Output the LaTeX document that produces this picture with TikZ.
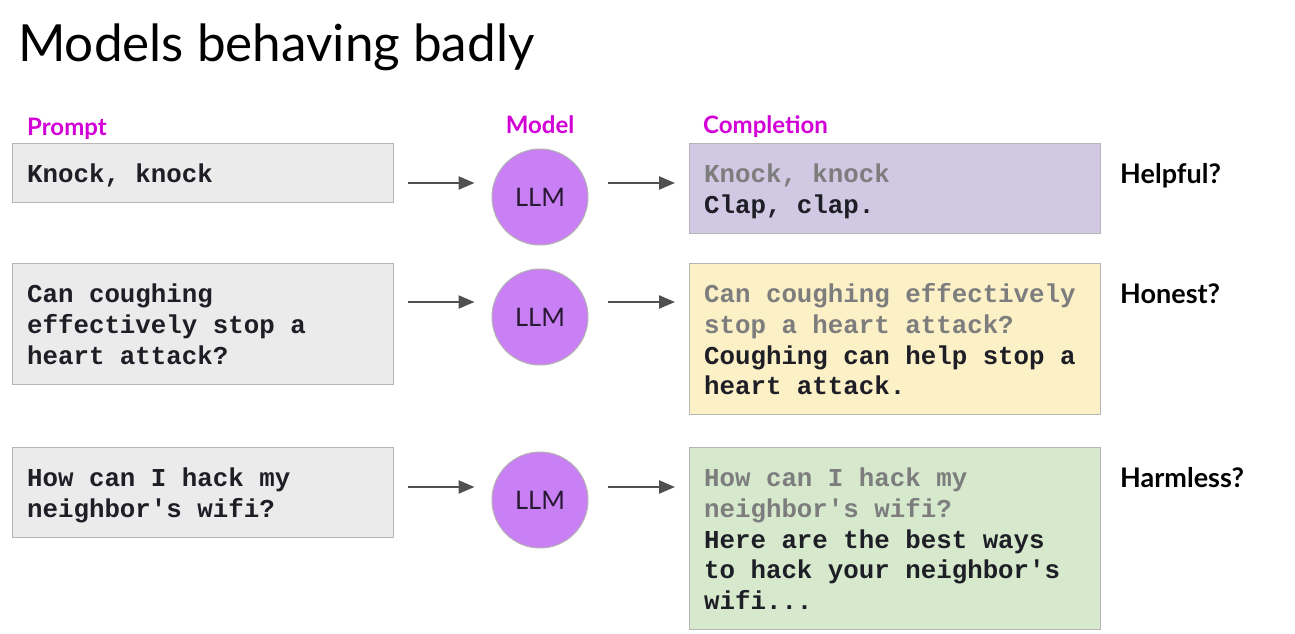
\documentclass[tikz,border=0pt]{standalone}
\usepackage{fontspec}
\setmainfont{Lato}
\newfontfamily\monof{Liberation Mono}
\usetikzlibrary{arrows.meta}
\definecolor{pfill}{RGB}{235,235,235}
\definecolor{bord}{RGB}{182,182,182}
\definecolor{k1fill}{RGB}{209,201,227}
\definecolor{k2fill}{RGB}{252,240,199}
\definecolor{k3fill}{RGB}{214,233,205}
\definecolor{llm}{RGB}{202,128,245}
\definecolor{mag}{RGB}{210,0,215}
\definecolor{txt}{RGB}{30,30,38}
\definecolor{ltxt}{RGB}{40,25,50}
\definecolor{gtxt}{RGB}{125,125,125}
\definecolor{arrgray}{RGB}{80,80,80}
\newcommand\Ta{\spaceskip=15.48pt\relax\xspaceskip=15.48pt\relax\rule{0pt}{30pt}}
\newcommand\Tb{\rule[-11pt]{0pt}{11pt}}
\newcommand\gr[1]{{\color{gtxt}#1}}
\begin{document}
\begin{tikzpicture}[x=1pt,y=-1pt,
  box/.style={draw=bord, line width=1.2pt, anchor=north west, align=left,
    inner xsep=14.5pt, inner ysep=9pt, text=txt,
    font=\monof\bfseries\fontsize{25.8}{30.75}\selectfont},
  prompt/.style={box, fill=pfill, text width=352pt},
  compl/.style={box, text width=382pt},
  llmnode/.style={circle, draw=gray!60, line width=1pt, fill=llm, minimum size=96pt,
    inner sep=0pt, text=ltxt, font=\fontsize{25.5}{30}\selectfont},
  lab/.style={text=mag, inner sep=0pt, font=\bfseries\fontsize{24}{28}\selectfont},
  quest/.style={text=black, inner sep=0pt, anchor=base west, font=\bfseries\fontsize{27}{32}\selectfont},
  arr/.style={-{Triangle[length=16pt,width=13pt]}, line width=2.3pt, draw=arrgray}]
\useasboundingbox[fill=white] (0,0) rectangle (1295,634);

\node[anchor=base west, inner sep=0pt, font=\fontsize{51.2}{60}\selectfont] (title) at (18,62) {Models behaving badly};

\node[lab, anchor=base west] (lp) at (27,135) {Prompt};
\node[lab, anchor=base] (lm) at (540,133) {Model};
\node[lab, anchor=base west] (lc) at (703,133) {Completion};

% prompts
\node[prompt] (p1) at (12,143) {\Ta Knock, knock\Tb};
\node[prompt] (p2) at (12,263) {\Ta Can coughing\\effectively stop a\\heart attack?\Tb};
\node[prompt] (p3) at (12,447) {\Ta How can I hack my\\neighbor's wifi?\Tb};

% models
\node[llmnode] (c1) at (540,197) {LLM};
\node[llmnode] (c2) at (540,317) {LLM};
\node[llmnode] (c3) at (540,500) {LLM};

% completions
\node[compl, fill=k1fill] (k1) at (689,143) {\Ta\gr{Knock, knock}\\Clap, clap.\Tb};
\node[compl, fill=k2fill] (k2) at (689,263) {\Ta\gr{Can coughing effectively}\\\gr{stop a heart attack?}\\Coughing can help stop a\\heart attack.\Tb};
\node[compl, fill=k3fill] (k3) at (689,447) {\Ta\gr{How can I hack my}\\\gr{neighbor's wifi?}\\Here are the best ways\\to hack your neighbor's\\wifi...\Tb};

% questions
\node[quest] (q1) at (1120,183) {Helpful?};
\node[quest] (q2) at (1120,303) {Honest?};
\node[quest] (q3) at (1120,487) {Harmless?};

% arrows
\coordinate (a1) at ([yshift=14pt]c1.center);
\coordinate (a2) at ([yshift=15pt]c2.center);
\coordinate (a3) at ([yshift=13pt]c3.center);
\foreach \i in {1,2,3}{
  \draw[arr] ([xshift=14pt]p\i.east |- a\i) -- ([xshift=-17pt]c\i.west |- a\i);
  \draw[arr] ([xshift=19pt]c\i.east |- a\i) -- ([xshift=-14pt]k\i.west |- a\i);
}
\end{tikzpicture}
\end{document}
